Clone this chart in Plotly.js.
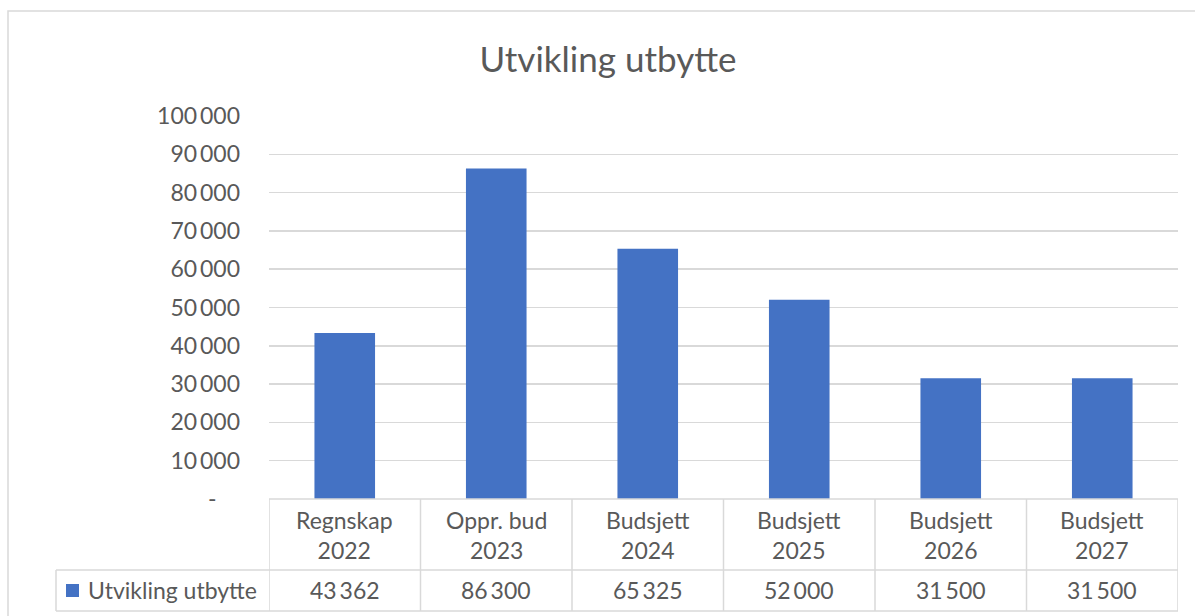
<!DOCTYPE html>
<html>
<head>
<meta charset="utf-8">
<script src="https://cdn.plot.ly/plotly-3.0.1.min.js"></script>
<style>html,body{margin:0;padding:0;background:#fff;}#chart{width:1195px;height:616px;}</style>
</head>
<body>
<div id="chart"></div>
<script>
// ---- data ----
const categories = ["Regnskap<br>2022", "Oppr. bud<br>2023", "Budsjett<br>2024", "Budsjett<br>2025", "Budsjett<br>2026", "Budsjett<br>2027"];
const seriesName = "Utvikling utbytte";
const values = [43362, 86300, 65325, 52000, 31500, 31500];
const yTickVals = [0, 10000, 20000, 30000, 40000, 50000, 60000, 70000, 80000, 90000, 100000];

// ---- helpers ----
function fmt(v) {
  if (v === 0) return "-    ";
  return String(v).replace(/\B(?=(\d{3})+(?!\d))/g, "\u2009");
}

const W = 1195, H = 616;
const M = {l: 269, r: 17, t: 116, b: 117};
const plotH = H - M.t - M.b;
const plotW = W - M.l - M.r;
// pixel -> paper helpers
const py = p => (H - M.b - p) / plotH;
const px = p => (p - M.l) / plotW;

const FONT = "Lato, 'Open Sans', sans-serif";
const TXT = "#595959";
const LINE = "#d9d9d9";
const FS = 23;

const xs = categories.map((c, i) => i);
const n = categories.length;

const shapes = [];
const annotations = [];

// outer chart border
shapes.push({type: "rect", xref: "paper", yref: "paper", x0: px(8), x1: px(1210), y0: py(11), y1: py(625),
  line: {color: LINE, width: 1.5}, fillcolor: "rgba(0,0,0,0)", layer: "below"});

// table: vertical lines at category boundaries
for (let i = 0; i <= n; i++) {
  shapes.push({type: "line", xref: "x", yref: "paper", x0: i - 0.5, x1: i - 0.5, y0: py(499), y1: py(611),
    line: {color: LINE, width: 1.5}});
}
// horizontal lines
shapes.push({type: "line", xref: "paper", yref: "paper", x0: 0, x1: 1, y0: py(499), y1: py(499), line: {color: LINE, width: 1.5}});
shapes.push({type: "line", xref: "paper", yref: "paper", x0: px(56), x1: 1, y0: py(570), y1: py(570), line: {color: LINE, width: 1.5}});
shapes.push({type: "line", xref: "paper", yref: "paper", x0: px(56), x1: 1, y0: py(611), y1: py(611), line: {color: LINE, width: 1.5}});
shapes.push({type: "line", xref: "paper", yref: "paper", x0: px(56), x1: px(56), y0: py(570), y1: py(611), line: {color: LINE, width: 1.5}});
// legend key
shapes.push({type: "rect", xref: "paper", yref: "paper", x0: px(66), x1: px(79), y0: py(597), y1: py(584),
  fillcolor: "#4472C4", line: {width: 0}});

// category header labels and values
categories.forEach((c, i) => {
  annotations.push({xref: "x", yref: "paper", x: xs[i], y: py(535), text: c, showarrow: false,
    xanchor: "center", yanchor: "middle", font: {family: FONT, size: FS, color: TXT}});
  annotations.push({xref: "x", yref: "paper", x: xs[i], y: py(590), text: fmt(values[i]), showarrow: false,
    xanchor: "center", yanchor: "middle", font: {family: FONT, size: FS, color: TXT}});
});
annotations.push({xref: "paper", yref: "paper", x: px(86), y: py(590), text: seriesName, showarrow: false,
  xanchor: "left", yanchor: "middle", font: {family: FONT, size: FS, color: TXT}});

const trace = {
  type: "bar", x: xs, y: values, name: seriesName,
  marker: {color: "#4472C4"}, hoverinfo: "y"
};

const layout = {
  width: W, height: H,
  margin: M,
  paper_bgcolor: "#fff", plot_bgcolor: "#fff",
  showlegend: false,
  bargap: 0.6,
  title: {text: "Utvikling utbytte", x: 608 / W, xref: "container", xanchor: "center",
    y: 1 - 60 / H, yref: "container", yanchor: "middle",
    font: {family: FONT, size: 35, color: TXT}},
  xaxis: {range: [-0.5, n - 0.5], showticklabels: false, showgrid: false, zeroline: false, showline: false, ticks: "", fixedrange: true},
  yaxis: {range: [0, 100000], tickvals: yTickVals, ticktext: yTickVals.map(fmt), showgrid: true, gridcolor: LINE, gridwidth: 1.5,
    zeroline: false, showline: false, ticks: "", ticklabelstandoff: 28,
    tickfont: {family: FONT, size: FS, color: TXT}, fixedrange: true},
  shapes: shapes,
  annotations: annotations
};

Plotly.newPlot("chart", [trace], layout, {displayModeBar: false, staticPlot: true});
</script>
</body>
</html>
